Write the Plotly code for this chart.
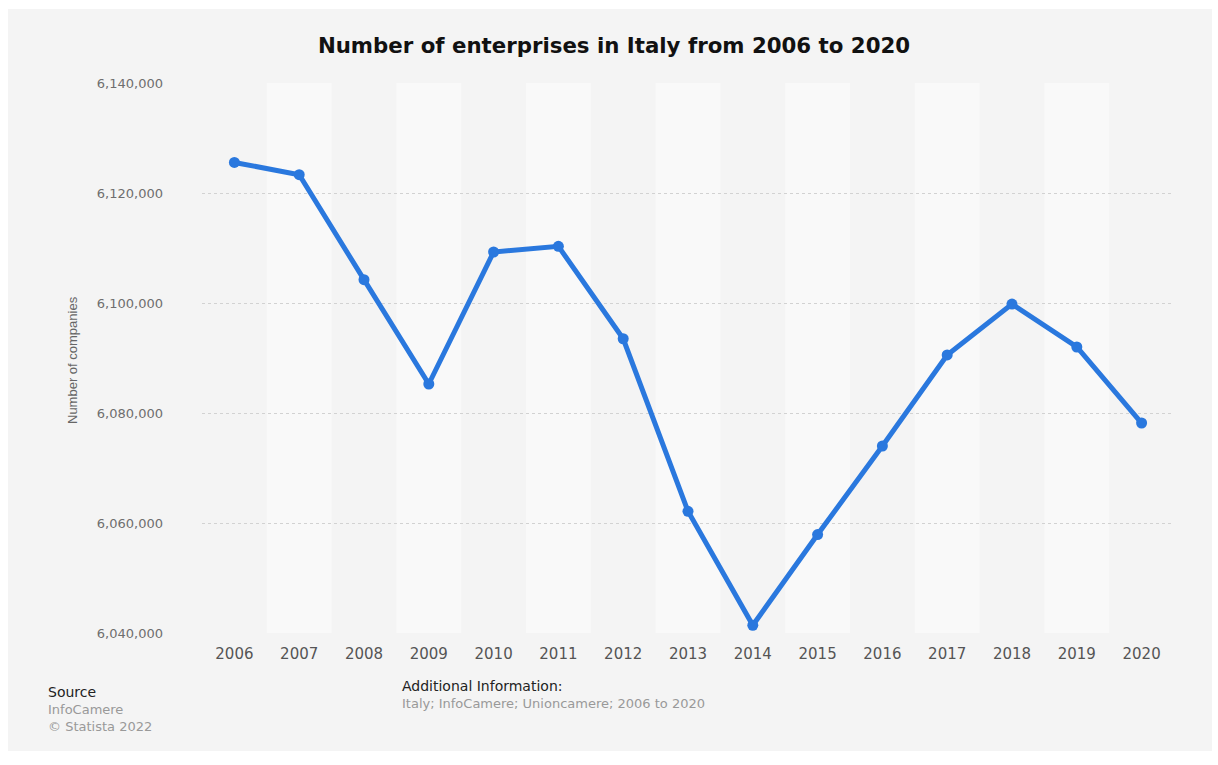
import plotly.graph_objects as go

# Number of enterprises registered in Italy, 2006-2020
years = [2006, 2007, 2008, 2009, 2010, 2011, 2012, 2013, 2014,
         2015, 2016, 2017, 2018, 2019, 2020]
enterprises = [6125560, 6123330, 6104240, 6085270, 6109270, 6110300, 6093500,
               6062130, 6041400, 6057900, 6074000, 6090550, 6099800, 6092000,
               6078180]
y_ticks = [6040000, 6060000, 6080000, 6100000, 6120000, 6140000]

W, H = 1218, 765
L, R, T, B = 202, 44, 83, 132
PW, PH = W - L - R, H - T - B


def px(x):
    return (x - L) / PW


def py(y):
    return (H - B - y) / PH


LINE_BLUE = "#2a78de"

fig = go.Figure()
fig.add_trace(go.Scatter(
    x=years, y=enterprises, mode="lines+markers",
    line=dict(color=LINE_BLUE, width=5),
    marker=dict(color=LINE_BLUE, size=11),
    hoverinfo="x+y",
))

shapes = [
    # grey card behind the whole chart
    dict(type="rect", xref="paper", yref="paper", layer="below",
         x0=px(8), x1=px(1212), y0=py(751), y1=py(9),
         fillcolor="#f4f4f4", line=dict(width=0)),
]
# alternating light column bands
for i, yr in enumerate(years):
    if i % 2 == 1:
        shapes.append(dict(type="rect", xref="x", yref="paper", layer="below",
                           x0=yr - 0.5, x1=yr + 0.5, y0=0, y1=1,
                           fillcolor="#f9f9f9", line=dict(width=0)))

annotations = [
    dict(text="Number of companies", xref="paper", yref="paper",
         x=px(72), y=py(360), textangle=-90, showarrow=False,
         font=dict(family="Liberation Sans", size=13, color="#666666"),
         xanchor="center", yanchor="middle"),
    dict(text="Source", xref="paper", yref="paper", x=px(46), y=py(692),
         showarrow=False, xanchor="left", yanchor="middle",
         font=dict(family="DejaVu Sans", size=14, color="#222222")),
    dict(text="InfoCamere", xref="paper", yref="paper", x=px(46), y=py(709),
         showarrow=False, xanchor="left", yanchor="middle",
         font=dict(family="DejaVu Sans", size=13, color="#999999")),
    dict(text="© Statista 2022", xref="paper", yref="paper", x=px(46), y=py(726),
         showarrow=False, xanchor="left", yanchor="middle",
         font=dict(family="DejaVu Sans", size=13, color="#999999")),
    dict(text="Additional Information:", xref="paper", yref="paper", x=px(400), y=py(686),
         showarrow=False, xanchor="left", yanchor="middle",
         font=dict(family="DejaVu Sans", size=14, color="#222222")),
    dict(text="Italy; InfoCamere; Unioncamere; 2006 to 2020", xref="paper", yref="paper",
         x=px(400), y=py(703), showarrow=False, xanchor="left", yanchor="middle",
         font=dict(family="DejaVu Sans", size=13, color="#999999")),
]

fig.update_layout(
    width=W, height=H,
    margin=dict(l=L, r=R, t=T, b=B, pad=0),
    paper_bgcolor="white",
    plot_bgcolor="rgba(0,0,0,0)",
    showlegend=False,
    title=dict(text="<b>Number of enterprises in Italy from 2006 to 2020</b>",
               x=px(614), xanchor="center", y=1 - 46 / H, yanchor="middle",
               xref="paper",
               font=dict(family="DejaVu Sans", size=21.3, color="#111111")),
    shapes=shapes,
    annotations=annotations,
    xaxis=dict(
        range=[2005.5, 2020.5], tickvals=years, ticktext=[str(y) for y in years],
        showgrid=False, zeroline=False, showline=False, ticks="",
        ticklabelstandoff=10,
        tickfont=dict(family="DejaVu Sans", size=15, color="#555555"),
        fixedrange=True,
    ),
    yaxis=dict(
        range=[6040000, 6140000], tickvals=y_ticks, tickformat=",",
        showgrid=True, gridcolor="#d2d2d2", griddash="dot", gridwidth=1,
        zeroline=False, showline=False, ticks="",
        ticklabelstandoff=38,
        tickfont=dict(family="DejaVu Sans", size=13, color="#6e6e6e"),
        fixedrange=True,
    ),
)

fig.write_html("out.html")
